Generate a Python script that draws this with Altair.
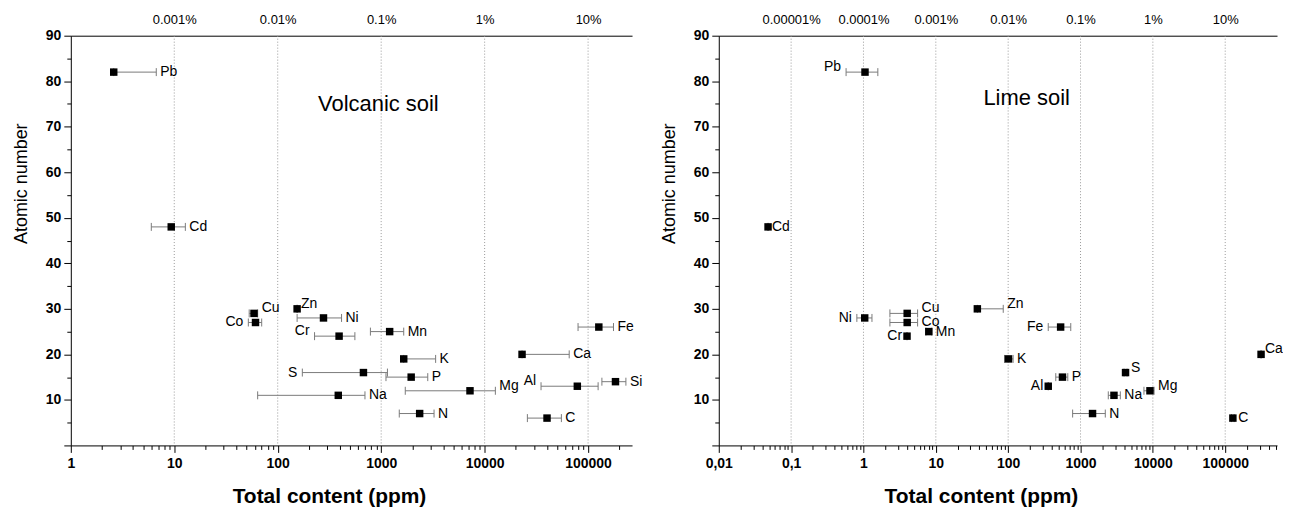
import json
import altair as alt
import pandas as pd

FONT = "Liberation Sans"

# ---------------- Volcanic soil ----------------
v_elem = ["Pb", "Cd", "Zn", "Cu", "Ni", "Co", "Fe", "Mn", "Cr", "Ca", "K", "S", "P", "Si", "Al", "Mg", "Na", "N", "C"]
v_z    = [82, 48, 30, 29, 28, 27, 26, 25, 24, 20, 19, 16, 15, 14, 13, 12, 11, 7, 6]
v_val  = [2.6, 9.35, 154, 59, 277, 61, 127000, 1208, 392, 23000, 1652, 674, 1950, 184000, 78700, 7220, 385, 2355, 40100]
v_lo   = [2.6, 6.0, 154, 53, 154, 52, 80000, 787, 227, 23000, 1652, 173, 1113, 136000, 35100, 1710, 64, 1496, 25900]
v_hi   = [6.7, 12.8, 154, 64, 414, 70, 176000, 1652, 557, 65700, 3360, 1150, 2820, 232000, 125000, 12700, 697, 3245, 55200]
v_side = ["r", "r", "r", "r", "r", "l", "r", "r", "l", "r", "r", "l", "r", "r", "l", "r", "r", "r", "r"]
v_raised = ["Zn", "Cu", "Cr", "Al", "Mg"]

# ---------------- Lime soil ----------------
l_elem = ["Pb", "Cd", "Zn", "Cu", "Ni", "Co", "Fe", "Mn", "Cr", "Ca", "K", "S", "P", "Al", "Mg", "Na", "N", "C"]
l_z    = [82, 48, 30, 29, 28, 27, 26, 25, 24, 20, 19, 16, 15, 13, 12, 11, 7, 6]
l_val  = [1.05, 0.048, 37.5, 4.02, 1.04, 4.02, 531, 8.0, 4.0, 313000, 101, 4190, 563, 358, 9120, 2900, 1466, 127600]
l_lo   = [0.575, 0.048, 37.5, 2.32, 0.81, 2.32, 358, 7.3, 4.0, 313000, 89, 4000, 455, 358, 7530, 2420, 778, 122000]
l_hi   = [1.58, 0.048, 85.5, 5.6, 1.31, 5.6, 733, 8.8, 4.0, 313000, 117, 4400, 667, 358, 10400, 3550, 2200, 133000]
l_side = ["l", "r", "r", "r", "l", "r", "l", "r", "l", "r", "r", "r", "r", "l", "r", "r", "r", "r"]
l_raised = ["Pb", "Zn", "Cu", "Ca", "S", "Mg"]

v_bottom_labels = ["1", "10", "100", "1000", "10000", "100000"]
v_top_labels = ["0.001%", "0.01%", "0.1%", "1%", "10%"]
l_bottom_labels = ["0,01", "0,1", "1", "10", "100", "1000", "10000", "100000"]
l_top_labels = ["0.00001%", "0.0001%", "0.001%", "0.01%", "0.1%", "1%", "10%"]

IS_DEC = "abs(log(datum.value)/LN10 - round(log(datum.value)/LN10)) < 0.001"
LOG10 = "round(log(datum.value)/LN10)"


def minor_ticks(e0, dmax):
    out = []
    e = e0
    while True:
        for m in range(1, 10):
            v = float(f"{m}e{e}")
            if v > dmax:
                return out
            out.append(v)
        e += 1


def panel(elem, z, val, lo, hi, side, raised, e0, dmax, bottom_labels, top_labels,
          g0, title_text, tx, ty, width, xtitle_x):
    df = pd.DataFrame({"el": elem, "z": z, "val": val, "lo": lo, "hi": hi, "side": side,
                       "up": [e in raised for e in elem]})
    grid_vals = [float(f"1e{e}") for e in range(g0, g0 + len(top_labels))]

    xscale = alt.Scale(type="log", domain=[float(f"1e{e0}"), dmax], nice=False)
    yscale = alt.Scale(domain=[0, 90], nice=False)

    xaxis = alt.Axis(
        values=minor_ticks(e0, dmax),
        labelExpr=f"{IS_DEC} ? {json.dumps(bottom_labels)}[{LOG10} - ({e0})] : ''",
        tickSize={"condition": {"test": IS_DEC, "value": 7}, "value": 4},
        grid=False, labelFlush=False, labelOverlap=False,
        title="Total content (ppm)", titleFontSize=21, titleFontWeight="bold",
        titlePadding=15, labelPadding=4, titleX=xtitle_x,
    )
    yaxis = alt.Axis(
        values=list(range(0, 95, 5)),
        labelExpr="datum.value % 10 == 0 && datum.value > 0 ? '' + datum.value : ''",
        tickSize={"condition": {"test": "datum.value % 10 == 0", "value": 7}, "value": 4},
        grid=False, labelOverlap=False,
        title="Atomic number", titleFontSize=18, titleFontWeight="normal",
        minExtent=28, maxExtent=28, titlePadding=12, labelPadding=3, titleY=148,
    )

    base = alt.Chart(df)
    ebar = base.mark_rule(color="#7a7a7a", strokeWidth=1).encode(
        x=alt.X("lo:Q", scale=xscale, axis=xaxis),
        x2="hi:Q",
        y=alt.Y("z:Q", scale=yscale, axis=yaxis),
    )
    cap_shape = "M0,-1L0,1"
    cap_lo = base.mark_point(shape=cap_shape, size=64, stroke="#7a7a7a", strokeWidth=1,
                             filled=False, opacity=1).encode(
        x=alt.X("lo:Q", scale=xscale, axis=xaxis),
        y=alt.Y("z:Q", scale=yscale, axis=yaxis),
    )
    cap_hi = base.mark_point(shape=cap_shape, size=64, stroke="#7a7a7a", strokeWidth=1,
                             filled=False, opacity=1).encode(
        x=alt.X("hi:Q", scale=xscale, axis=xaxis),
        y=alt.Y("z:Q", scale=yscale, axis=yaxis),
    )
    pts = base.mark_square(size=56, color="black", opacity=1).encode(
        x=alt.X("val:Q", scale=xscale, axis=xaxis),
        y=alt.Y("z:Q", scale=yscale, axis=yaxis),
    )

    def labels(sd, up):
        fld = "hi" if sd == "r" else "lo"
        return base.transform_filter(
            f"datum.side == '{sd}' && datum.up == {'true' if up else 'false'}"
        ).mark_text(
            align="left" if sd == "r" else "right", baseline="middle",
            dx=4 if sd == "r" else -5, dy=-5 if up else 0,
            fontSize=14, font=FONT, color="black"
        ).encode(
            x=alt.X(f"{fld}:Q", scale=xscale, axis=xaxis),
            y=alt.Y("z:Q", scale=yscale, axis=yaxis),
            text="el:N",
        )

    ttl = alt.Chart(pd.DataFrame({"t": [title_text], "x": [tx], "y": [ty]})).mark_text(
        fontSize=22, font=FONT, color="black"
    ).encode(
        x=alt.X("x:Q", scale=xscale, axis=xaxis),
        y=alt.Y("y:Q", scale=yscale, axis=yaxis),
        text="t:N",
    )
    inner = alt.layer(ebar, cap_lo, cap_hi, pts,
                      labels("r", False), labels("r", True),
                      labels("l", False), labels("l", True), ttl)

    grid = alt.Chart(pd.DataFrame({"g": grid_vals})).mark_rule(
        color="#9a9a9a", strokeWidth=1, strokeDash=[1, 2]
    ).encode(
        x=alt.X("g:Q", scale=xscale, axis=alt.Axis(
            orient="top", values=grid_vals,
            labelExpr=f"{json.dumps(top_labels)}[{LOG10} - ({g0})]",
            ticks=False, grid=False, title=None, labelFontWeight="normal",
            labelFontSize=13, labelPadding=9, labelFlush=False, labelOverlap=False,
        )),
    )
    return alt.layer(grid, inner).resolve_scale(x="independent").properties(
        width=width, height=411
    )


left = panel(v_elem, v_z, v_val, v_lo, v_hi, v_side, v_raised, 0, 266000,
             v_bottom_labels, v_top_labels, 1, "Volcanic soil", 940, 75, 563, 259)
right = panel(l_elem, l_z, l_val, l_lo, l_hi, l_side, l_raised, -2, 520000,
              l_bottom_labels, l_top_labels, -1, "Lime soil", 180, 76.4, 560, 263)

chart = alt.hconcat(left, right, spacing=87, bounds="flush").properties(
    padding={"left": 5, "top": 5, "right": 0, "bottom": 0}
).configure_view(stroke=None).configure_axis(
    labelFont=FONT, titleFont=FONT, labelFontWeight="bold", labelFontSize=14,
    labelColor="black", titleColor="black", domainColor="black", tickColor="black",
    domainWidth=1, tickWidth=1,
)

chart.save("out.html", embed_options={"renderer": "svg", "actions": False})
